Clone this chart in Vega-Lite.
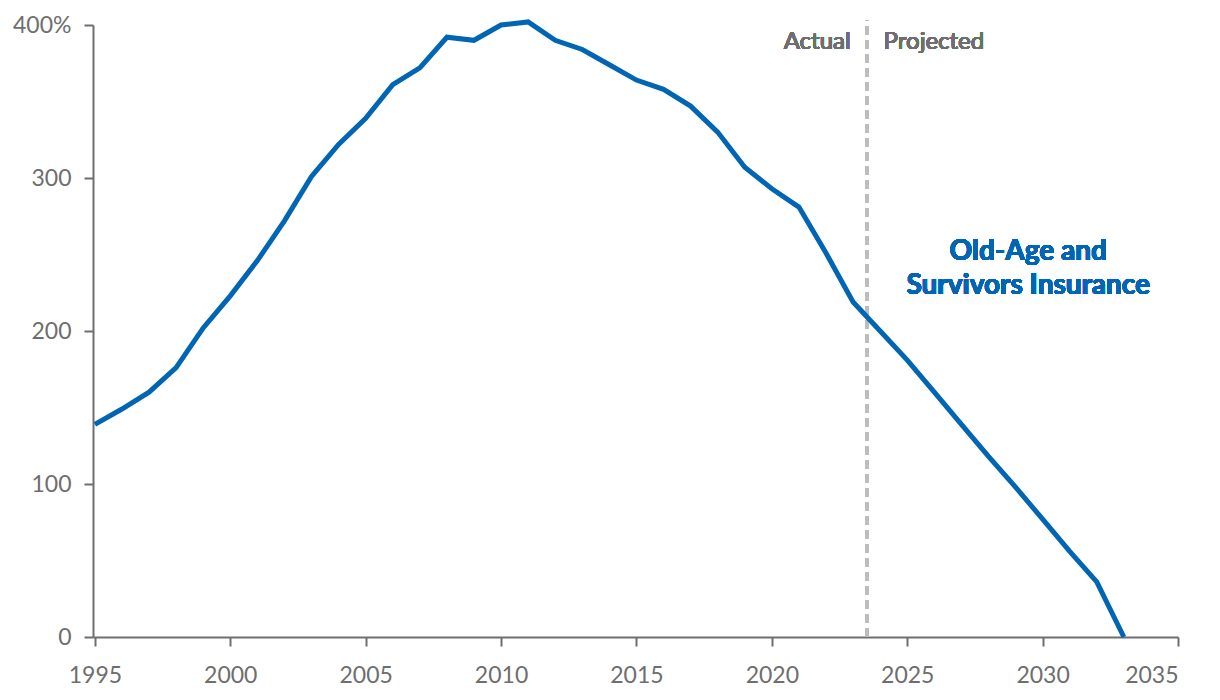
{
  "$schema": "https://vega.github.io/schema/vega-lite/v6.json",
  "width": 1085,
  "height": 612,
  "autosize": {"type": "none"},
  "padding": {"left": 93, "top": 25, "right": 42, "bottom": 63},
  "background": "white",
  "config": {
    "view": {"stroke": null},
    "font": "Lato",
    "axis": {
      "labelFont": "Lato",
      "labelFontSize": 23,
      "labelColor": "#6e6e6e",
      "domainColor": "#6e6e6e",
      "domainWidth": 2,
      "tickColor": "#6e6e6e",
      "tickWidth": 2,
      "tickSize": 9,
      "grid": false,
      "title": null
    }
  },
  "data": {
    "values": [
      {"year": 1995, "ratio": 139},
      {"year": 1996, "ratio": 149},
      {"year": 1997, "ratio": 160},
      {"year": 1998, "ratio": 176},
      {"year": 1999, "ratio": 202},
      {"year": 2000, "ratio": 223},
      {"year": 2001, "ratio": 246},
      {"year": 2002, "ratio": 272},
      {"year": 2003, "ratio": 301},
      {"year": 2004, "ratio": 322},
      {"year": 2005, "ratio": 339},
      {"year": 2006, "ratio": 361},
      {"year": 2007, "ratio": 372},
      {"year": 2008, "ratio": 392},
      {"year": 2009, "ratio": 390},
      {"year": 2010, "ratio": 400},
      {"year": 2011, "ratio": 402},
      {"year": 2012, "ratio": 390},
      {"year": 2013, "ratio": 384},
      {"year": 2014, "ratio": 374},
      {"year": 2015, "ratio": 364},
      {"year": 2016, "ratio": 358},
      {"year": 2017, "ratio": 347},
      {"year": 2018, "ratio": 330},
      {"year": 2019, "ratio": 307},
      {"year": 2020, "ratio": 293},
      {"year": 2021, "ratio": 281},
      {"year": 2022, "ratio": 251},
      {"year": 2023, "ratio": 219},
      {"year": 2024, "ratio": 200},
      {"year": 2025, "ratio": 181},
      {"year": 2026, "ratio": 160},
      {"year": 2027, "ratio": 139},
      {"year": 2028, "ratio": 118},
      {"year": 2029, "ratio": 98},
      {"year": 2030, "ratio": 77},
      {"year": 2031, "ratio": 56},
      {"year": 2032, "ratio": 36},
      {"year": 2033, "ratio": 0}
    ]
  },
  "layer": [
    {
      "mark": {"type": "rule", "color": "#bdbdbd", "strokeWidth": 3, "strokeDash": [9, 5]},
      "encoding": {
        "x": {"datum": 2023.5, "type": "quantitative"},
        "y": {"datum": 0, "type": "quantitative"},
        "y2": {"datum": 403}
      }
    },
    {
      "mark": {"type": "line", "color": "#0066b3", "strokeWidth": 5, "strokeJoin": "miter", "clip": false},
      "encoding": {
        "x": {
          "field": "year",
          "type": "quantitative",
          "scale": {"domain": [1994.93, 2035], "nice": false, "zero": false},
          "axis": {"values": [1995, 2000, 2005, 2010, 2015, 2020, 2025, 2030, 2035], "format": "d", "labelPadding": 18}
        },
        "y": {
          "field": "ratio",
          "type": "quantitative",
          "scale": {"domain": [0, 400], "nice": false},
          "axis": {"values": [0, 100, 200, 300, 400], "labelExpr": "datum.value == 400 ? '400%' : datum.label", "labelPadding": 13}
        }
      }
    },
    {
      "mark": {"type": "text", "text": "Actual", "align": "right", "baseline": "middle", "dx": -16, "fontSize": 24, "fontWeight": 400, "color": "#6e6e6e", "font": "Lato"},
      "encoding": {
        "x": {"datum": 2023.5, "type": "quantitative"},
        "y": {"datum": 389, "type": "quantitative"}
      }
    },
    {
      "mark": {"type": "text", "text": "Projected", "align": "left", "baseline": "middle", "dx": 17, "fontSize": 24, "fontWeight": 400, "color": "#6e6e6e", "font": "Lato"},
      "encoding": {
        "x": {"datum": 2023.5, "type": "quantitative"},
        "y": {"datum": 389, "type": "quantitative"}
      }
    },
    {
      "mark": {"type": "text", "text": ["Old-Age and", "Survivors Insurance"], "align": "center", "baseline": "middle", "lineHeight": 34, "fontSize": 28, "fontWeight": "bold", "color": "#0066b3", "font": "Lato"},
      "encoding": {
        "x": {"datum": 2029.47, "type": "quantitative"},
        "y": {"datum": 251.6, "type": "quantitative"}
      }
    }
  ]
}
